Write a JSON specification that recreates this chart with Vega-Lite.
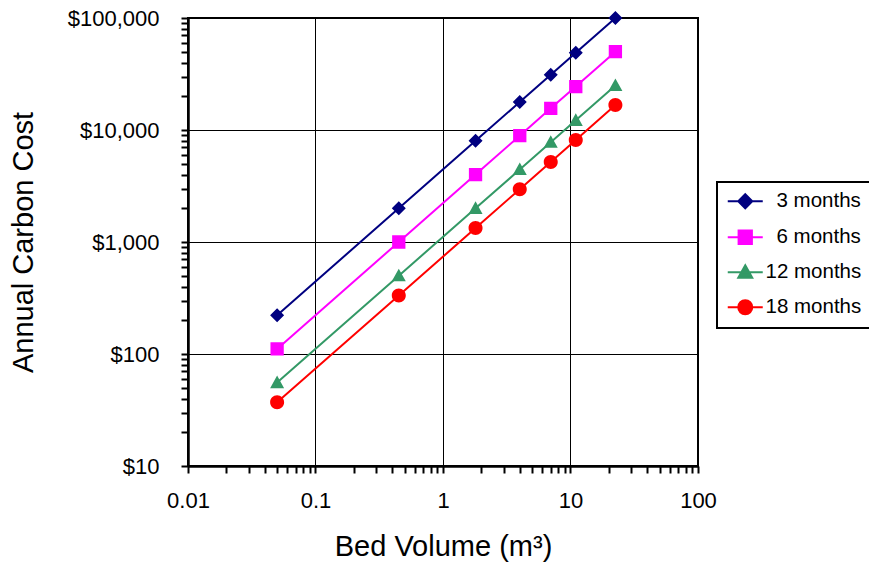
{
  "$schema": "https://vega.github.io/schema/vega-lite/v6.json",
  "width": 510,
  "height": 448,
  "autosize": {"type": "none"},
  "padding": {"left": 188, "top": 18, "right": 171, "bottom": 101},
  "background": "white",
  "config": {
    "font": "Liberation Sans",
    "view": {"stroke": "black", "strokeWidth": 2},
    "axis": {
      "domainColor": "black",
      "domainWidth": 2.5,
      "tickColor": "black",
      "tickWidth": 2,
      "tickSize": 7,
      "labelColor": "black",
      "labelFontSize": 22,
      "labelFont": "Liberation Sans",
      "titleFont": "Liberation Sans",
      "titleFontSize": 29,
      "titleFontWeight": "normal",
      "titleColor": "black",
      "grid": true,
      "gridColor": "black",
      "gridWidth": 1,
      "labelOverlap": false,
      "labelFlush": false,
      "labelBound": false
    },
    "legend": {
      "orient": "none",
      "legendX": 529,
      "legendY": 164,
      "padding": 9,
      "rowPadding": 13,
      "symbolOffset": 9,
      "labelOffset": 10,
      "labelFontSize": 20.5,
      "labelColor": "black",
      "labelFont": "Liberation Sans",
      "symbolSize": 196,
      "symbolStrokeWidth": 2,
      "strokeColor": "black",
      "fillColor": "white",
      "labelLimit": 300
    }
  },
  "data": {
    "values": [
      {"volume": 0.05, "cost": 222, "series": "3 months"},
      {"volume": 0.45, "cost": 2000, "series": "3 months"},
      {"volume": 1.8, "cost": 8000, "series": "3 months"},
      {"volume": 4, "cost": 17800, "series": "3 months"},
      {"volume": 7, "cost": 31100, "series": "3 months"},
      {"volume": 11, "cost": 48900, "series": "3 months"},
      {"volume": 22.5, "cost": 100000, "series": "3 months"},
      {"volume": 0.05, "cost": 111, "series": "6 months"},
      {"volume": 0.45, "cost": 1000, "series": "6 months"},
      {"volume": 1.8, "cost": 4000, "series": "6 months"},
      {"volume": 4, "cost": 8900, "series": "6 months"},
      {"volume": 7, "cost": 15600, "series": "6 months"},
      {"volume": 11, "cost": 24400, "series": "6 months"},
      {"volume": 22.5, "cost": 50000, "series": "6 months"},
      {"volume": 0.05, "cost": 55.6, "series": "12 months"},
      {"volume": 0.45, "cost": 500, "series": "12 months"},
      {"volume": 1.8, "cost": 2000, "series": "12 months"},
      {"volume": 4, "cost": 4440, "series": "12 months"},
      {"volume": 7, "cost": 7780, "series": "12 months"},
      {"volume": 11, "cost": 12200, "series": "12 months"},
      {"volume": 22.5, "cost": 25000, "series": "12 months"},
      {"volume": 0.05, "cost": 37, "series": "18 months"},
      {"volume": 0.45, "cost": 333, "series": "18 months"},
      {"volume": 1.8, "cost": 1333, "series": "18 months"},
      {"volume": 4, "cost": 2960, "series": "18 months"},
      {"volume": 7, "cost": 5190, "series": "18 months"},
      {"volume": 11, "cost": 8150, "series": "18 months"},
      {"volume": 22.5, "cost": 16700, "series": "18 months"}
    ]
  },
  "encoding": {
    "x": {
      "field": "volume",
      "type": "quantitative",
      "scale": {"type": "log", "domain": [0.01, 100]},
      "axis": {
        "title": "Bed Volume (m³)",
        "values": [0.01, 0.02, 0.03, 0.04, 0.05, 0.06, 0.07, 0.08, 0.09, 0.1, 0.2, 0.3, 0.4, 0.5, 0.6, 0.7, 0.8, 0.9, 1, 2, 3, 4, 5, 6, 7, 8, 9, 10, 20, 30, 40, 50, 60, 70, 80, 90, 100],
        "format": "~g",
        "labelExpr": "abs(log(datum.value)/LN10 - round(log(datum.value)/LN10)) < 0.001 ? datum.label : ''",
        "gridOpacity": {"condition": {"test": "abs(log(datum.value)/LN10 - round(log(datum.value)/LN10)) < 0.001", "value": 1}, "value": 0},
        "labelPadding": 17,
        "titlePadding": 21
      }
    },
    "y": {
      "field": "cost",
      "type": "quantitative",
      "scale": {"type": "log", "domain": [10, 100000]},
      "axis": {
        "title": "Annual Carbon Cost",
        "values": [10, 20, 30, 40, 50, 60, 70, 80, 90, 100, 200, 300, 400, 500, 600, 700, 800, 900, 1000, 2000, 3000, 4000, 5000, 6000, 7000, 8000, 9000, 10000, 20000, 30000, 40000, 50000, 60000, 70000, 80000, 90000, 100000],
        "format": "$,.0f",
        "labelExpr": "abs(log(datum.value)/LN10 - round(log(datum.value)/LN10)) < 0.001 ? datum.label : ''",
        "gridOpacity": {"condition": {"test": "abs(log(datum.value)/LN10 - round(log(datum.value)/LN10)) < 0.001", "value": 1}, "value": 0},
        "labelPadding": 22,
        "titlePadding": 29
      }
    }
  },
  "layer": [
    {
      "mark": {"type": "line", "strokeWidth": 2},
      "encoding": {
        "color": {
          "field": "series",
          "type": "nominal",
          "title": null,
          "scale": {"domain": ["3 months", "6 months", "12 months", "18 months"], "range": ["#000080", "#FF00FF", "#339966", "#FF0000"]},
          "legend": {
            "encode": {
              "legend": {"update": {"stroke": {"value": "black"}, "strokeWidth": {"value": 2}}},
              "labels": {"update": {"dx": {"signal": "datum.value == '3 months' || datum.value == '6 months' ? 11 : 0"}}}
            }
          }
        }
      }
    },
    {
      "mark": {"type": "point", "filled": true, "size": 196, "opacity": 1},
      "encoding": {
        "color": {
          "field": "series",
          "type": "nominal",
          "title": null,
          "scale": {"domain": ["3 months", "6 months", "12 months", "18 months"], "range": ["#000080", "#FF00FF", "#339966", "#FF0000"]},
          "legend": {
            "encode": {
              "legend": {"update": {"stroke": {"value": "black"}, "strokeWidth": {"value": 2}}},
              "labels": {"update": {"dx": {"signal": "datum.value == '3 months' || datum.value == '6 months' ? 11 : 0"}}}
            }
          }
        },
        "shape": {
          "field": "series",
          "type": "nominal",
          "title": null,
          "scale": {"domain": ["3 months", "6 months", "12 months", "18 months"], "range": ["M-2.5,0H2.5M0,-1L1,0L0,1L-1,0Z", "M-2.5,0H2.5M-0.95,-0.95H0.95V0.95H-0.95Z", "M-2.5,0H2.5M0,-1L1,0.8H-1Z", "M-2.5,0H2.5M-1,0A1,1 0 1,0 1,0A1,1 0 1,0 -1,0Z"]},
          "legend": {
            "encode": {
              "legend": {"update": {"stroke": {"value": "black"}, "strokeWidth": {"value": 2}}},
              "labels": {"update": {"dx": {"signal": "datum.value == '3 months' || datum.value == '6 months' ? 11 : 0"}}}
            }
          }
        }
      }
    }
  ]
}
